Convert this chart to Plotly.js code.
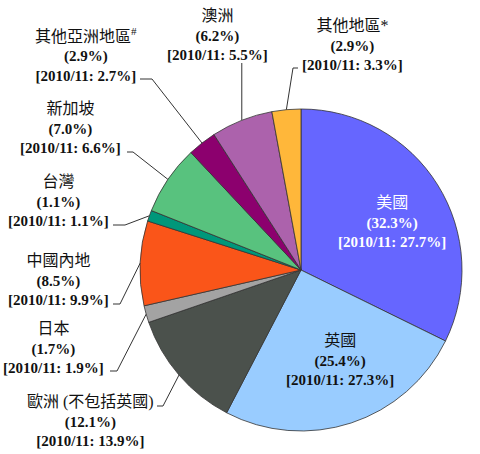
<!DOCTYPE html>
<html>
<head>
<meta charset="utf-8">
<script src="https://cdn.plot.ly/plotly-3.0.1.min.js"></script>
<style>html,body{margin:0;padding:0;background:#fff;}#chart{width:480px;height:454px;}</style>
</head>
<body>
<div id="chart"></div>
<script>
// ---- data ----
const regions = ['美國','英國','歐洲 (不包括英國)','日本','中國內地','台灣','新加坡','其他亞洲地區','澳洲','其他地區*'];
const regionLabels = ['美國','英國','歐洲 (不包括英國)','日本','中國內地','台灣','新加坡','其他亞洲地區<sup>#</sup>','澳洲','其他地區*'];
const shares = [32.3, 25.4, 12.1, 1.7, 8.5, 1.1, 7.0, 2.9, 6.2, 2.9];
const shares2010 = [27.7, 27.3, 13.9, 1.9, 9.9, 1.1, 6.6, 2.7, 5.5, 3.3];
const sliceColors = ['#6666FF','#99CCFF','#4B514C','#A3A3A3','#FA5519','#00977A','#58C27E','#8C006E','#AC62AC','#FFB73A'];

// ---- layout config (pixels) ----
const W = 480, H = 454;
const CX = 301, CY = 270, R = 161;
// label block centres, and elbow of leader line (null = inside label)
const labelPos = [
  {x:392, y:222, inside:true, color:'#ffffff'},
  {x:340, y:360, inside:true, color:'#111111'},
  {x:90,  y:421, elbow:[[157,406],[163,406]]},
  {x:53,  y:348, elbow:[[110,371],[117,371]]},
  {x:58,  y:280, elbow:[[113,304],[120,304]]},
  {x:58,  y:201, elbow:[[113,225],[125,225]]},
  {x:70,  y:128, elbow:[[127,152],[133,152]]},
  {x:86,  y:55,  elbow:[[140,79],[152,79]]},
  {x:217, y:35,  elbow:'vertical', top:63},
  {x:352, y:45,  elbow:[[298,68],[293,68]]}
];

const px = v => v / W;
const py = v => 1 - v / H;

const domain = {
  x: [px(CX - R), px(CX + R)],
  y: [py(CY + R), py(CY - R)]
};

const total = shares.reduce((a,b)=>a+b,0);
let cum = 0;
const annotations = [];
const shapes = [];
shares.forEach((v, i) => {
  const mid = (cum + v/2) / total;
  cum += v;
  const ang = mid * 2 * Math.PI; // clockwise from 12 o'clock
  const ex = CX + R * Math.sin(ang);
  const ey = CY - R * Math.cos(ang);
  const lp = labelPos[i];
  const name = '<span style="font-size:16px">' + regionLabels[i] + '</span>';
  const text = name + '<br><b>(' + v.toFixed(1) + '%)</b><br><b>[2010/11: ' + shares2010[i].toFixed(1) + '%]</b>';
  annotations.push({
    xref:'paper', yref:'paper', x: px(lp.x), y: py(lp.y),
    xanchor:'center', yanchor:'middle', showarrow:false, align:'center',
    text: text,
    font:{family:'"Liberation Serif", "Noto Sans CJK TC", serif', size:15, color: lp.color || '#111111'}
  });
  if (!lp.inside) {
    let path;
    if (lp.elbow === 'vertical') {
      path = 'M' + px(ex) + ',' + py(lp.top) + ' L' + px(ex) + ',' + py(ey);
    } else {
      path = 'M' + px(lp.elbow[0][0]) + ',' + py(lp.elbow[0][1]) +
             ' L' + px(lp.elbow[1][0]) + ',' + py(lp.elbow[1][1]) +
             ' L' + px(ex) + ',' + py(ey);
    }
    shapes.push({type:'path', xref:'paper', yref:'paper', path: path,
                 line:{color:'#333333', width:1}});
  }
});

const trace = {
  type:'pie',
  labels: regions,
  values: shares,
  sort:false,
  direction:'clockwise',
  rotation:0,
  domain: domain,
  textinfo:'none',
  hoverinfo:'skip',
  marker:{colors: sliceColors, line:{color:'#333333', width:0.8}}
};

const layout = {
  width: W, height: H,
  margin:{l:0, r:0, t:0, b:0, pad:0},
  showlegend:false,
  paper_bgcolor:'#ffffff',
  plot_bgcolor:'#ffffff',
  annotations: annotations,
  shapes: shapes
};

Plotly.newPlot('chart', [trace], layout, {displayModeBar:false, staticPlot:true});
</script>
</body>
</html>
